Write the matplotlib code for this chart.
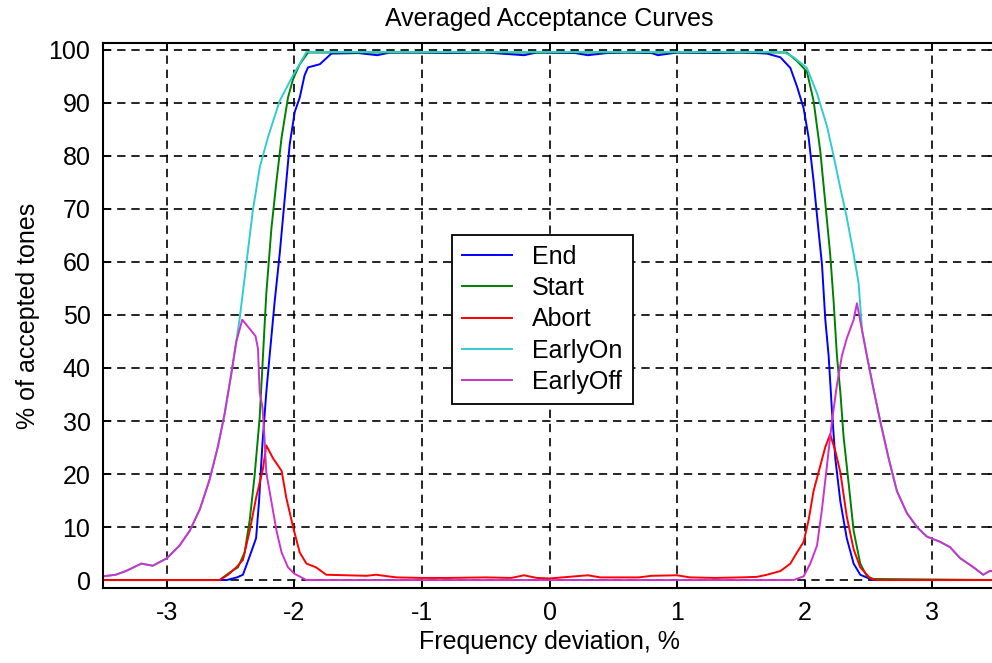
import matplotlib
matplotlib.use('Agg')
import matplotlib.pyplot as plt

# 数据
end_x = [-3.5, -2.53, -2.45, -2.403, -2.35, -2.3, -2.277, -2.25, -2.22, -2.194, -2.154, -2.115,
         -2.076, -2.037, -1.997, -1.958, -1.92, -1.893, -1.8, -1.71, -1.5, -1.35, -1.25, -1.0,
         -0.8, -0.5, -0.2, -0.1, 0.2, 0.3, 0.45, 0.6, 0.8, 0.85, 1.0, 1.3, 1.5, 1.627, 1.705,
         1.81, 1.888, 1.94, 1.992, 2.031, 2.07, 2.11, 2.136, 2.162, 2.188, 2.214, 2.24, 2.28,
         2.33, 2.384, 2.436, 2.514, 2.56, 3.5]
end_y = [0, 0, 0.5, 1.0, 4.5, 7.9, 14.8, 25.8, 35.4, 42.3, 52.6, 61.5,
         71.8, 82.1, 88.3, 91.0, 95.2, 96.7, 97.3, 99.3, 99.4, 99.0, 99.5, 99.5,
         99.4, 99.5, 99.0, 99.5, 99.4, 99.0, 99.4, 99.5, 99.4, 99.0, 99.5, 99.4, 99.5, 99.4, 99.3,
         98.6, 96.6, 93.1, 89.0, 83.5, 75.3, 65.6, 59.5, 49.1, 42.3, 32.0, 23.0, 14.8,
         7.9, 3.1, 1.0, 0.2, 0, 0]

start_x = [-3.5, -2.586, -2.508, -2.442, -2.39, -2.35, -2.312, -2.272, -2.246, -2.22, -2.18,
           -2.14, -2.1, -2.05, -2.01, -1.958, -1.893, 1.86, 1.94, 2.018, 2.07, 2.123, 2.162,
           2.2, 2.227, 2.253, 2.28, 2.305, 2.345, 2.384, 2.436, 2.488, 2.54, 3.5]
start_y = [0, 0, 1.4, 2.4, 5.2, 11.3, 19.6, 30.6, 42.3, 54.0, 66.3,
           75.3, 83.5, 91.0, 94.5, 97.3, 99.5, 99.5, 97.9, 95.9, 90.4, 80.8, 71.1,
           61.5, 52.6, 42.3, 35.4, 27.1, 18.2, 9.3, 3.1, 0.7, 0.2, 0]

abort_x = [-3.5, -2.586, -2.52, -2.455, -2.403, -2.35, -2.3, -2.246, -2.22, -2.168, -2.1,
           -2.063, -2.01, -1.958, -1.905, -1.83, -1.75, -1.435, -1.36, -1.2, -1.0, -0.8, -0.5,
           -0.3, -0.2, -0.1, 0.0, 0.3, 0.4, 0.7, 0.8, 1.0, 1.1, 1.3, 1.5, 1.627, 1.705, 1.81,
           1.888, 1.94, 1.992, 2.031, 2.07, 2.123, 2.162, 2.2, 2.24, 2.28, 2.33, 2.384, 2.436,
           2.514, 2.567, 3.5]
abort_y = [0, 0, 1.0, 2.4, 3.8, 9.3, 15.5, 21.0, 25.4, 23.0, 20.6,
           15.5, 10.0, 5.2, 3.1, 2.4, 1.0, 0.8, 1.0, 0.5, 0.4, 0.4, 0.5,
           0.4, 0.9, 0.4, 0.3, 0.9, 0.5, 0.5, 0.8, 0.9, 0.5, 0.4, 0.5, 0.6, 1.0, 1.7,
           3.1, 5.2, 7.2, 11.3, 16.8, 21.6, 25.1, 27.5, 24.4, 20.3, 12.0, 5.8, 2.4,
           0.3, 0, 0]

earlyon_x = [-3.5, -3.4, -3.32, -3.2, -3.11, -3.0, -2.9, -2.82, -2.74, -2.665, -2.6, -2.547,
             -2.495, -2.455, -2.43, -2.377, -2.325, -2.27, -2.207, -2.115, -2.01, -1.905,
             1.835, 1.914, 2.018, 2.097, 2.175, 2.227, 2.28, 2.33, 2.384, 2.423, 2.45, 2.488,
             2.54, 2.593, 2.658, 2.723, 2.8, 2.88, 2.958, 3.063, 3.14, 3.22, 3.324, 3.4, 3.45,
             3.5]
earlyon_y = [0.7, 1.0, 1.7, 3.1, 2.7, 4.1, 6.5, 9.3, 13.4, 18.9, 25.1, 31.3,
             38.8, 45.0, 49.1, 59.5, 69.8, 78.0, 83.5, 90.4, 95.2, 99.6,
             99.6, 98.6, 96.6, 91.8, 85.6, 80.0, 73.9, 68.4, 61.5, 56.0, 47.1, 42.3,
             36.0, 29.9, 23.0, 16.8, 12.7, 10.0, 8.2, 7.2, 6.2, 4.1, 2.4, 1.0, 1.7,
             1.7]

earlyoff_x = [-3.5, -3.4, -3.32, -3.2, -3.11, -3.0, -2.9, -2.82, -2.74, -2.665, -2.6, -2.547,
              -2.495, -2.455, -2.408, -2.364, -2.304, -2.285, -2.272, -2.25, -2.238, -2.22,
              -2.18, -2.14, -2.1, -2.05, -2.0, -1.905, 1.914, 1.992, 2.044, 2.097, 2.136,
              2.175, 2.214, 2.253, 2.292, 2.332, 2.384, 2.41, 2.45, 2.488, 2.54, 2.593, 2.658,
              2.723, 2.8, 2.88, 2.958, 3.063, 3.14, 3.22, 3.324, 3.4, 3.45, 3.5]
earlyoff_y = [0.7, 1.0, 1.7, 3.1, 2.7, 4.1, 6.5, 9.3, 13.4, 18.9, 25.1, 31.3,
              38.8, 45.0, 49.1, 47.8, 46.0, 43.6, 35.4, 32.6, 28.5, 20.3,
              14.8, 9.3, 5.2, 2.4, 1.2, 0.0, 0.0, 0.7, 3.1, 6.5, 13.4,
              21.6, 29.9, 36.8, 42.3, 45.7, 49.1, 52.2, 47.1, 42.3, 36.0, 29.9, 23.0,
              16.8, 12.7, 10.0, 8.2, 7.2, 6.2, 4.1, 2.4, 1.0, 1.7, 1.7]

series = [
    ('End', end_x, end_y, '#0000ff'),
    ('Start', start_x, start_y, '#008000'),
    ('Abort', abort_x, abort_y, '#ff0000'),
    ('EarlyOn', earlyon_x, earlyon_y, '#33cccc'),
    ('EarlyOff', earlyoff_x, earlyoff_y, '#cc33cc'),
]

plt.rcParams['font.family'] = ['Liberation Sans', 'DejaVu Sans']
plt.rcParams['font.size'] = 18
plt.rcParams['axes.unicode_minus'] = False

fig = plt.figure(figsize=(9.92, 6.63), dpi=100)
ax = fig.add_axes([103 / 992, 75 / 663, 893 / 992, 545 / 663])

for name, xs, ys, col in series:
    ax.plot(xs, ys, color=col, lw=1.4, label=name)

ax.set_xlim(-3.5, 3.5)
ax.set_ylim(-1.5, 101.3)
ax.set_xticks(range(-3, 4))
ax.set_yticks(range(0, 101, 10))
ax.grid(True, color='black', linestyle=(0, (5, 3.5)), linewidth=1.2)
ax.set_axisbelow(True)
ax.tick_params(direction='in', top=True, right=True, length=6, width=1.2, pad=9,
               labelsize=18)
for s in ax.spines.values():
    s.set_linewidth(1.5)

ax.set_title('Averaged Acceptance Curves', fontsize=18, pad=12)
ax.set_xlabel('Frequency deviation, %', fontsize=18, labelpad=4)
ax.set_ylabel('% of accepted tones', fontsize=18, labelpad=6)

leg = ax.legend(loc='upper left', bbox_to_anchor=(0.391, 0.648), borderaxespad=0,
                fontsize=18, frameon=True, fancybox=False, framealpha=1,
                edgecolor='black', labelspacing=0.29, handlelength=2.0,
                borderpad=0.4, handletextpad=0.8)
leg.get_frame().set_linewidth(1.3)

fig.savefig('out.png', dpi=100)
